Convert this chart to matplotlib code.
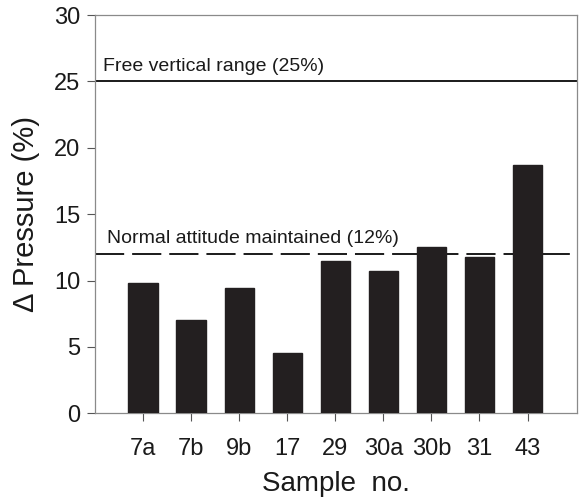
import matplotlib
matplotlib.use("Agg")
import matplotlib.pyplot as plt

samples = ["7a", "7b", "9b", "17", "29", "30a", "30b", "31", "43"]
delta_pressure = [9.85, 7.05, 9.4, 4.55, 11.45, 10.75, 12.5, 11.75, 18.7]
free_range = 25
normal_attitude = 12
yticks = [0, 5, 10, 15, 20, 25, 30]

plt.rcParams['font.family'] = ['Liberation Sans', 'DejaVu Sans']

fig = plt.figure(figsize=(5.8, 4.98), dpi=100)
ax = fig.add_axes([95/580, 1 - 413.3/498, (577 - 95)/580, (413.3 - 15)/498])

x = list(range(len(samples)))
ax.bar(x, delta_pressure, width=0.61, color='#231f20', edgecolor='#231f20', zorder=3)

ax.axhline(free_range, color='#1a1a1a', lw=1.4, zorder=2)
ax.axhline(normal_attitude, color='#1a1a1a', lw=1.4, linestyle=(0, (15, 4.1)), zorder=2)

ax.text(-0.83, free_range + 0.5, "Free vertical range (25%)", fontsize=14, ha='left', va='bottom', color='#1a1a1a')
ax.text(-0.76, normal_attitude + 0.5, "Normal attitude maintained (12%)", fontsize=14, ha='left', va='bottom', color='#1a1a1a')

ax.set_xlim(-1, 9.03)
ax.set_ylim(0, 30)
ax.set_xticks(x)
ax.set_xticklabels(samples)
ax.set_yticks(yticks)

for s in ax.spines.values():
    s.set_color('#8a8a8a')
    s.set_linewidth(0.9)

ax.tick_params(axis='both', direction='out', length=5.5, width=0.8, color='#555555', labelsize=17, labelcolor='#1a1a1a')
ax.tick_params(axis='x', pad=12)
ax.tick_params(axis='y', pad=5)

ax.set_xlabel("Sample  no.", fontsize=20, color='#1a1a1a', labelpad=8)
ax.set_ylabel("\u0394 Pressure (%)", fontsize=21, color='#1a1a1a', labelpad=10)

fig.savefig("out.png", dpi=100)
